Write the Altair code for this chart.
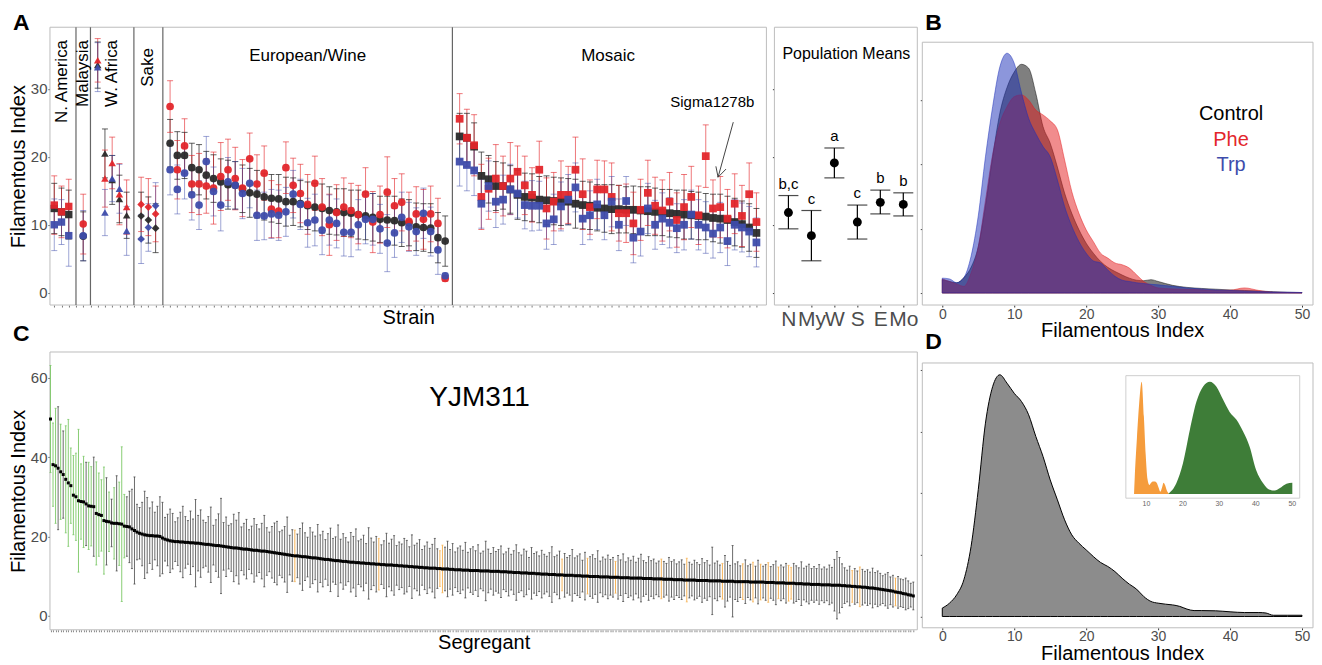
import altair as alt
import pandas as pd

FONT = "Liberation Sans"
RED = "#E3262B"
BLUE = "#3E4CAB"
DARK = "#2A2A2A"
FRAME = "#BDBDBD"
GREY_TXT = "#4D4D4D"

# ================= Panel A : strains =================
group_names = ["N. America", "Malaysia", "W. Africa", "Sake", "European/Wine", "Mosaic"]
group_sizes = [3, 1, 5, 3, 39, 42]
group_shapes = ["square", "circle", "triangle-up", "diamond", "circle", "square"]
group_marker_size = [55, 60, 55, 28, 60, 55]
group_label_y = [37.2, 37.2, 37.2, 36.0, 34.9, 34.9]
treatments = ["Control", "Phe", "Trp"]

ctrl_mean = ([12.4, 11.9, 11.5] + [8.3] + [33.5, 20.5, 16.6, 13.8, 11.4] + [11.3, 10.7, 9.5]
             + [22.0, 20.2, 20.2, 18.4, 18.1, 17.3, 16.8, 16.3, 15.9, 15.8,
                15.3, 14.7, 14.5, 14.1, 13.9, 13.8, 13.4, 13.4, 13.1, 12.8,
                12.6, 12.4, 12.1, 11.9, 11.8, 11.7, 11.5, 11.3, 11.1, 10.8,
                10.7, 10.6, 10.3, 10.3, 9.7, 9.6, 9.5, 8.1, 7.6]
             + [23.0, 22.8, 21.5, 17.2, 16.7, 15.7, 15.7, 15.2, 14.4, 14.1,
                14.0, 13.7, 13.6, 13.5, 13.4, 13.4, 13.1, 12.9, 12.8, 12.5,
                12.4, 12.3, 12.3, 12.2, 12.2, 12.1, 12.0, 11.9, 11.8, 11.7,
                11.6, 11.5, 11.4, 11.3, 11.2, 11.0, 10.9, 10.7, 10.4, 10.1,
                9.6, 8.8])
phe_mean = ([12.9, 11.9, 12.7] + [10.1] + [34.2, 16.8, 19.1, 14.5, 12.6] + [13.0, 12.6, 11.6]
            + [27.4, 18.1, 21.6, 16.0, 16.0, 15.7, 15.4, 17.1, 18.1, 16.8,
               15.4, 19.7, 16.0, 17.6, 12.3, 12.0, 18.4, 15.8, 14.6, 13.0,
               16.1, 12.6, 10.0, 11.8, 12.6, 12.1, 11.5, 14.5, 10.4, 11.5,
               14.8, 12.8, 13.3, 10.5, 11.6, 10.8, 11.6, 10.2, 2.1]
            + [25.6, 22.8, 21.7, 14.1, 15.3, 16.8, 15.7, 16.8, 17.8, 15.8,
               14.4, 18.1, 12.4, 13.4, 14.4, 14.4, 18.1, 14.5, 12.6, 15.2,
               15.2, 14.1, 11.7, 11.7, 10.2, 12.2, 14.7, 12.8, 12.1, 13.4,
               10.7, 12.6, 14.1, 11.4, 20.1, 12.4, 12.6, 10.9, 13.1, 11.3,
               14.5, 10.4])
trp_mean = ([10.0, 10.4, 8.4] + [8.4] + [33.2, 11.8, 16.8, 15.3, 9.1] + [7.9, 9.6, 12.8]
            + [18.1, 15.2, 17.6, 14.4, 12.9, 19.3, 14.9, 12.9, 16.3, 15.8,
               14.6, 16.1, 11.4, 11.3, 11.6, 11.4, 11.9, 14.5, 13.0, 10.3,
               10.7, 9.2, 10.7, 10.2, 8.9, 8.9, 10.0, 10.8, 10.8, 9.4,
               7.3, 8.8, 11.1, 9.7, 9.0, 11.7, 9.0, 6.3, 2.5]
            + [19.3, 18.8, 18.0, 13.1, 15.7, 13.4, 13.7, 15.2, 14.6, 12.9,
               12.8, 12.8, 10.2, 10.8, 12.7, 13.7, 15.5, 10.9, 11.4, 13.0,
               11.4, 13.4, 10.0, 13.5, 8.1, 9.0, 12.4, 10.0, 10.9, 10.3,
               9.5, 10.0, 11.5, 10.0, 9.6, 8.7, 9.6, 7.6, 10.0, 9.6,
               9.0, 7.4])
ctrl_err = ([3.7, 3.5, 3.6] + [3.6] + [3.4, 3.6, 3.6, 3.5, 3.4] + [3.5, 3.4, 3.6]
            + [3.5, 3.5, 3.4, 3.6, 3.7, 3.5, 3.5, 3.4, 3.6, 3.5,
               3.5, 3.6, 3.5, 3.4, 3.5, 3.6, 3.6, 3.5, 3.4, 3.5,
               3.5, 3.6, 3.5, 3.4, 3.5, 3.4, 3.6, 3.5, 3.5, 3.4,
               3.5, 3.6, 3.5, 3.4, 3.5, 3.5, 3.6, 3.7, 3.7]
            + [3.4, 3.6, 3.5, 3.5, 3.5, 3.6, 3.4, 3.5, 3.6, 3.5,
               3.5, 3.4, 3.6, 3.5, 3.5, 3.4, 3.6, 3.5, 3.5, 3.4,
               3.5, 3.6, 3.5, 3.4, 3.5, 3.5, 3.6, 3.5, 3.4, 3.5,
               3.5, 3.6, 3.5, 3.5, 3.4, 3.5, 3.6, 3.5, 3.5, 3.4,
               3.5, 3.6])
phe_err = ([4.3, 3.8, 4.0] + [4.4] + [3.2, 4.2, 3.8, 4.5, 4.0] + [4.0, 4.2, 4.1]
           + [3.8, 4.3, 4.0, 4.2, 4.5, 4.0, 5.3, 5.0, 4.5, 4.6,
              4.2, 3.8, 4.3, 4.0, 4.2, 3.9, 3.8, 4.0, 4.3, 4.4,
              4.0, 4.2, 4.5, 4.1, 4.3, 4.0, 4.3, 3.9, 4.5, 4.2,
              5.2, 4.0, 4.2, 4.3, 4.0, 4.4, 4.1, 3.7, 0.4]
           + [3.7, 4.2, 4.5, 4.8, 4.5, 5.0, 4.4, 5.3, 3.8, 4.3,
              4.0, 4.2, 4.5, 4.3, 5.0, 4.2, 4.8, 5.2, 4.0, 4.3,
              4.2, 5.0, 4.1, 4.3, 4.6, 4.5, 4.8, 4.2, 4.5, 4.3,
              4.0, 4.8, 4.5, 4.3, 4.6, 4.2, 4.5, 4.3, 4.4, 4.5,
              4.6, 4.3])
trp_err = ([3.8, 3.3, 4.5] + [3.7] + [3.6, 3.4, 3.4, 3.6, 3.6] + [3.6, 3.5, 3.4]
           + [3.7, 3.6, 3.8, 3.7, 3.6, 3.7, 3.6, 3.8, 3.6, 3.5,
              3.7, 3.6, 3.7, 3.5, 3.6, 3.7, 3.6, 3.5, 3.7, 3.6,
              3.8, 3.6, 3.7, 3.6, 3.5, 3.6, 3.7, 3.6, 3.8, 3.6,
              4.2, 3.6, 3.7, 3.6, 3.5, 3.7, 3.6, 3.6, 0.4]
           + [3.6, 3.8, 3.7, 3.6, 3.7, 3.8, 3.6, 3.7, 3.6, 3.5,
              3.7, 3.6, 3.8, 3.7, 3.6, 3.7, 3.6, 3.8, 3.6, 3.7,
              3.6, 3.7, 3.8, 3.6, 3.7, 3.6, 3.7, 3.6, 3.8, 3.7,
              3.6, 3.7, 3.6, 3.7, 3.8, 3.6, 3.7, 3.6, 3.7, 3.6,
              3.7, 3.6])

sigma_label = "Sigma1278b"
sigma_pos = {"x": 91.9, "y": 28.05}
arrow_x = [94.8, 92.7, 92.7]
arrow_y = [25.1, 17.0, 17.0]
arrow_x2 = [92.7, 93.8, 92.4]
arrow_y2 = [17.0, 18.2, 18.6]

# ================= Panel A : population means =================
pop_labels = ["N", "My", "W", "S", "E", "Mo"]
pop_mean = [11.8, 8.4, 19.1, 10.4, 13.3, 13.0]
pop_lo = [9.4, 4.7, 16.9, 7.9, 11.6, 11.3]
pop_hi = [14.3, 12.1, 21.3, 12.9, 15.1, 14.7]
pop_letters = ["b,c", "c", "a", "c", "b", "b"]

# ================= Panel B : densities =================
b_x = list(range(0, 31)) + [32, 34, 36, 38, 40, 42, 44, 46, 48, 50]
ctrl_dens = [0.0052, 0.0045, 0.0040, 0.0060, 0.0100, 0.0180, 0.0340, 0.0530, 0.0700, 0.0800,
             0.0860, 0.0890, 0.0875, 0.0777, 0.0648, 0.0583, 0.0490, 0.0389, 0.0310, 0.0246,
             0.0194, 0.0155, 0.0123, 0.0100, 0.0084, 0.0070, 0.0058, 0.0050, 0.0048, 0.0052,
             0.0045,
             0.0030, 0.0022, 0.0018, 0.0015, 0.0012, 0.0010, 0.0008, 0.0005, 0.0003, 0.0002]
phe_dens = [0.0055, 0.0045, 0.0035, 0.0026, 0.0078, 0.0180, 0.0360, 0.0540, 0.0660, 0.0725,
            0.0764, 0.0771, 0.0751, 0.0712, 0.0693, 0.0670, 0.0635, 0.0518, 0.0395, 0.0310,
            0.0246, 0.0200, 0.0155, 0.0136, 0.0117, 0.0110, 0.0097, 0.0071, 0.0045, 0.0030,
            0.0020,
            0.0016, 0.0014, 0.0013, 0.0010, 0.0011, 0.0020, 0.0010, 0.0003, 0.0002, 0.0001]
trp_dens = [0.0058, 0.0055, 0.0040, 0.0060, 0.0143, 0.0300, 0.0530, 0.0725, 0.0880, 0.0933,
            0.0894, 0.0780, 0.0680, 0.0620, 0.0570, 0.0530, 0.0440, 0.0337, 0.0260, 0.0200,
            0.0155, 0.0125, 0.0117, 0.0090, 0.0065, 0.0050, 0.0045, 0.0040, 0.0037, 0.0034,
            0.0032,
            0.0026, 0.0020, 0.0016, 0.0012, 0.0010, 0.0008, 0.0006, 0.0004, 0.0003, 0.0002]

# ================= Panel C : segregants =================
seg_mean = [
    49.6, 38.1, 37.8, 37.2, 36.3, 35.6, 34.4, 33.5, 32.8, 30.4, 30.0, 29.0, 28.8, 28.7, 28.2, 27.7, 27.6, 27.5, 25.8, 25.5,
    25.3, 24.0, 23.8, 23.7, 23.4, 23.3, 23.3, 23.2, 23.1, 22.6, 22.5, 22.4, 21.9, 21.5, 21.1, 20.8, 20.6, 20.4, 20.3, 20.2,
    20.2, 20.1, 20.1, 20.0, 19.6, 19.3, 19.1, 18.9, 18.8, 18.7, 18.7, 18.6, 18.6, 18.5, 18.5, 18.4, 18.4, 18.3, 18.3, 18.2,
    18.1, 18.0, 18.0, 17.9, 17.8, 17.7, 17.7, 17.6, 17.5, 17.4, 17.3, 17.2, 17.1, 17.1, 17.0, 16.9, 16.8, 16.8, 16.7, 16.6,
    16.5, 16.5, 16.4, 16.3, 16.3, 16.2, 16.1, 16.0, 15.9, 15.8, 15.7, 15.6, 15.5, 15.4, 15.3, 15.2, 15.1, 15.1, 15.0, 14.9,
    14.9, 14.8, 14.7, 14.6, 14.6, 14.5, 14.4, 14.3, 14.2, 14.2, 14.1, 14.0, 13.9, 13.9, 13.8, 13.7, 13.7, 13.6, 13.5, 13.5,
    13.4, 13.4, 13.3, 13.3, 13.2, 13.2, 13.1, 13.1, 13.0, 13.0, 12.9, 12.9, 12.8, 12.8, 12.8, 12.7, 12.7, 12.6, 12.6, 12.5,
    12.5, 12.4, 12.4, 12.3, 12.3, 12.2, 12.2, 12.1, 12.1, 12.0, 12.0, 12.0, 11.9, 11.9, 11.8, 11.8, 11.8, 11.7, 11.7, 11.6,
    11.6, 11.6, 11.5, 11.5, 11.5, 11.4, 11.4, 11.4, 11.4, 11.3, 11.3, 11.3, 11.3, 11.2, 11.2, 11.2, 11.2, 11.1, 11.1, 11.1,
    11.0, 11.0, 10.9, 10.9, 10.9, 10.8, 10.8, 10.8, 10.7, 10.7, 10.7, 10.6, 10.6, 10.5, 10.5, 10.5, 10.4, 10.4, 10.4, 10.3,
    10.3, 10.3, 10.2, 10.2, 10.2, 10.2, 10.1, 10.1, 10.1, 10.0, 10.0, 10.0, 9.9, 9.9, 9.9, 9.9, 9.8, 9.8, 9.8, 9.8,
    9.7, 9.7, 9.7, 9.7, 9.6, 9.6, 9.6, 9.6, 9.5, 9.5, 9.5, 9.5, 9.5, 9.4, 9.4, 9.4, 9.4, 9.3, 9.3, 9.3,
    9.3, 9.2, 9.2, 9.2, 9.2, 9.1, 9.1, 9.1, 9.1, 9.0, 9.0, 9.0, 9.0, 9.0, 8.9, 8.9, 8.9, 8.9, 8.9, 8.8,
    8.8, 8.8, 8.8, 8.8, 8.7, 8.7, 8.7, 8.7, 8.7, 8.6, 8.6, 8.6, 8.6, 8.6, 8.6, 8.5, 8.5, 8.5, 8.5, 8.5,
    8.5, 8.4, 8.4, 8.4, 8.4, 8.3, 8.3, 8.3, 8.3, 8.2, 8.2, 8.2, 8.2, 8.1, 8.1, 8.1, 8.0, 8.0, 8.0, 7.9,
    7.9, 7.9, 7.9, 7.8, 7.8, 7.8, 7.8, 7.7, 7.7, 7.7, 7.7, 7.6, 7.6, 7.5, 7.5, 7.4, 7.4, 7.3, 7.3, 7.2,
    7.2, 7.1, 7.0, 7.0, 6.9, 6.8, 6.7, 6.6, 6.5, 6.4, 6.3, 6.2, 6.0, 5.9, 5.8, 5.6, 5.5, 5.3, 5.2, 5.0,
]
seg_err = [
    13.5, 10.5, 14.5, 15.5, 12.0, 11.0, 13.5, 16.0, 9.5, 10.0, 11.0, 18.0, 9.5, 11.5, 10.5, 11.0, 10.0, 12.5, 13.0, 10.5,
    9.0, 13.5, 11.0, 7.5, 6.0, 9.0, 12.0, 10.5, 19.5, 8.0, 7.5, 9.0, 10.0, 13.5, 7.0, 6.5, 8.0, 11.0, 9.5, 7.0,
    8.5, 6.0, 7.5, 10.0, 9.0, 5.5, 6.5, 8.0, 7.0, 5.0, 6.0, 7.5, 9.0, 6.5, 5.5, 8.0, 6.0, 11.0, 7.0, 8.5,
    6.0, 5.5, 7.0, 9.5, 5.0, 6.5, 8.0, 12.0, 6.0, 7.5, 5.5, 6.0, 8.5, 7.0, 9.0, 5.5, 6.5, 7.5, 5.0, 6.0,
    8.0, 6.5, 5.5, 7.0, 9.0, 6.0, 5.0, 6.5, 7.5, 8.0, 5.5, 6.0, 7.0, 9.5, 5.0, 6.5, 6.5, 5.5, 7.0, 8.5,
    6.0, 5.0, 7.5, 6.5, 5.5, 8.5, 6.0, 7.0, 5.0, 6.5, 8.0, 5.5, 6.0, 9.0, 5.5, 7.0, 6.0, 5.0, 7.5, 6.5,
    8.5, 5.5, 6.0, 7.0, 5.0, 9.0, 6.5, 5.5, 7.0, 6.5, 5.0, 6.0, 8.0, 5.5, 6.5, 7.5, 5.0, 6.0, 5.5, 7.0,
    6.5, 5.0, 8.0, 5.5, 6.0, 7.0, 4.5, 5.5, 6.5, 5.0, 6.0, 7.5, 5.0, 4.5, 6.0, 5.5, 7.0, 5.0, 6.5, 4.5,
    5.5, 6.0, 5.0, 7.0, 4.5, 5.5, 6.0, 5.0, 6.5, 4.5, 5.0, 7.5, 5.5, 4.5, 6.0, 5.0, 5.5, 6.5, 4.5, 5.0,
    6.0, 4.5, 5.5, 7.0, 5.0, 4.5, 6.0, 5.5, 4.0, 6.5, 5.0, 5.5, 4.5, 6.0, 5.0, 4.5, 5.5, 7.0, 4.5, 5.0,
    6.0, 4.0, 5.5, 4.5, 5.0, 6.5, 4.5, 5.0, 5.5, 4.0, 6.0, 4.5, 5.0, 5.5, 4.5, 6.5, 4.0, 5.0, 4.5, 5.5,
    4.5, 5.0, 4.0, 5.5, 4.5, 6.0, 4.0, 5.0, 4.5, 5.5, 4.0, 5.0, 6.0, 4.5, 4.0, 5.5, 4.5, 5.0, 4.0, 4.5,
    5.0, 4.5, 4.0, 5.5, 4.5, 5.0, 4.0, 4.5, 5.0, 4.0, 5.5, 4.5, 4.0, 5.0, 4.5, 4.0, 5.5, 4.5, 5.0, 4.0,
    8.5, 4.5, 5.0, 4.0, 4.5, 6.5, 5.0, 4.0, 9.0, 4.5, 5.0, 4.0, 4.5, 5.5, 4.0, 4.5, 5.0, 4.0, 5.5, 4.5,
    4.0, 4.5, 5.0, 4.0, 4.5, 5.5, 4.0, 4.5, 4.0, 5.0, 4.5, 4.0, 5.0, 4.5, 4.0, 5.5, 4.0, 4.5, 5.0, 4.0,
    4.5, 4.0, 5.0, 4.0, 4.5, 4.0, 5.0, 4.5, 6.5, 8.5, 7.0, 5.5, 4.5, 4.0, 5.0, 4.0, 4.5, 4.0, 5.0, 4.5,
    4.0, 4.5, 4.0, 5.0, 4.0, 4.5, 4.0, 3.5, 4.0, 4.5, 3.5, 4.0, 3.5, 4.0, 3.5, 3.5, 4.0, 3.5, 3.0, 3.5,
]
green_idx = [0, 1, 2, 4, 6, 7, 8, 9, 10, 11, 12, 13, 15, 16, 18, 19, 20, 21, 23, 25, 27, 28, 29]
orange_idx = [96, 129, 153, 154, 201, 211, 222, 240, 250, 264, 272, 276, 279, 282, 286, 290, 291,
              315, 318, 332]

# ================= Panel D : density + inset =================
d_x = list(range(0, 36)) + [36, 38, 40, 42, 44, 45, 46, 48, 50]
d_dens = [0.0034, 0.0054, 0.0088, 0.0149, 0.0284, 0.0514, 0.0784, 0.0932, 0.0980, 0.0946,
          0.0905, 0.0872, 0.0818, 0.0730, 0.0649, 0.0554, 0.0473, 0.0392, 0.0331, 0.0297,
          0.0270, 0.0243, 0.0219, 0.0203, 0.0182, 0.0155, 0.0131, 0.0111, 0.0081, 0.0061,
          0.0054, 0.0050, 0.0047, 0.0041, 0.0030, 0.0024,
          0.0024, 0.0023, 0.0019, 0.0016, 0.0016, 0.0014, 0.0005, 0.0005, 0.0005]
orange_x = [6.6, 6.8, 7.4, 8.0, 8.7, 9.3, 9.8, 10.3, 10.8, 11.3, 11.8, 12.3, 12.8, 13.3, 13.8,
            14.3, 14.7, 15.1, 15.6, 16.2]
orange_y = [0.0, 0.15, 0.50, 0.80, 1.0, 0.69, 0.35, 0.13, 0.08, 0.10, 0.11, 0.11, 0.10, 0.06, 0.02,
            0.06, 0.10, 0.08, 0.03, 0.0]
green_x = [16.0, 18.2, 20.0, 21.9, 23.7, 25.5, 27.4, 29.2, 31.0, 32.8, 34.7, 36.5, 38.3, 40.1, 42.0,
           43.8, 45.2, 46.5, 48.4, 50.0]
green_y = [0.0, 0.095, 0.27, 0.57, 0.82, 0.955, 1.0, 0.955, 0.84, 0.73, 0.66, 0.555, 0.42, 0.21, 0.095,
           0.036, 0.03, 0.05, 0.09, 0.10]
inset_ticks = [10, 20, 30, 40, 50]

assert len(ctrl_mean) == len(phe_mean) == len(trp_mean) == sum(group_sizes) == 93
assert len(ctrl_err) == len(phe_err) == len(trp_err) == 93
assert len(seg_mean) == len(seg_err) == 340
assert len(b_x) == len(ctrl_dens) == len(phe_dens) == len(trp_dens)
assert len(d_x) == len(d_dens)

# ---------- canvas layout (pixels inside the single view) ----------
W, H = 1306, 649
panel_boxes = {            # x0, x1, y0, y1 of each panel frame
    "A1": (41, 758, 19, 297),
    "A2": (766, 909, 19, 297),
    "B": (914, 1305, 34, 297),
    "C": (41, 909, 344, 622),
    "D": (914, 1305, 355, 620),
}

def off_bottom(y):
    return -(H - y)

sA_x = alt.Scale(domain=[0.406, 99.38], range=[41, 758], nice=False, zero=False)
sA_y = alt.Scale(domain=[-1.81, 39.07], range=[297, 19], nice=False, zero=False)
sP_x = alt.Scale(type="point", domain=pop_labels, range=[766, 909], padding=0.61)
sB_x = alt.Scale(domain=[0, 50], range=[934, 1294], nice=False, zero=False)
sB_y = alt.Scale(domain=[0, 0.1], range=[285, 27.8], nice=False, zero=False)
sC_x = alt.Scale(domain=[-0.2, 340.57], range=[41, 909], nice=False, zero=False)
sC_y = alt.Scale(domain=[-3.53, 66.5], range=[622, 344], nice=False, zero=False)
sD_y = alt.Scale(domain=[0, 0.1], range=[608.7, 361.9], nice=False, zero=False)
sI_x = alt.Scale(domain=[10, 50], range=[1138.3, 1284.3], nice=False, zero=False)
sI_y = alt.Scale(domain=[0, 1], range=[486, 373.7], nice=False, zero=False)

one = pd.DataFrame([{"a": 1}])
layers = []

# ---------- frames ----------
frame_df = pd.DataFrame([{"p": k, "x0": v[0], "x1": v[1], "y0": v[2], "y1": v[3]}
                         for k, v in panel_boxes.items()])
layers.append(alt.Chart(frame_df).mark_rect(fill="white", stroke=FRAME, strokeWidth=1).encode(
    x=alt.X("x0:Q", scale=None, axis=None), x2="x1:Q",
    y=alt.Y("y0:Q", scale=None, axis=None), y2="y1:Q"))

# ---------- panel A strains ----------
rows, divs, lab_rows = [], [], []
x = 1
k = 0
for gi, (g, n) in enumerate(zip(group_names, group_sizes)):
    xs = list(range(x, x + n))
    for xi in xs:
        for ti, (t, mm, ee) in enumerate((("Control", ctrl_mean, ctrl_err),
                                           ("Phe", phe_mean, phe_err),
                                           ("Trp", trp_mean, trp_err))):
            rows.append({"x": xi, "group": g, "treatment": t, "t_order": ti,
                         "mean": mm[k], "lo": mm[k] - ee[k], "hi": mm[k] + ee[k]})
        k += 1
    lab_rows.append({"group": g, "x": (xs[0] + xs[-1]) / 2.0, "y": group_label_y[gi],
                     "rotated": gi < 4})
    x += n
    if gi < len(group_names) - 1:
        divs.append({"x": x})
        x += 1
strain_df = pd.DataFrame(rows).sort_values("t_order", kind="stable")
div_df = pd.DataFrame(divs)
lab_df = pd.DataFrame(lab_rows)

col_scale = alt.Scale(domain=treatments, range=[DARK, RED, BLUE])
bar_op_scale = alt.Scale(domain=treatments, range=[0.75, 0.5, 0.5])
xA_axis = alt.Axis(orient="bottom", offset=off_bottom(297), values=list(range(1, 99)),
                   labels=False, title="Strain", titlePadding=0, tickColor="#777777")
yA_axis = alt.Axis(orient="left", offset=-41, values=[0, 10, 20, 30],
                   title="Filamentous Index", titlePadding=2)
xA_n = alt.X("x:Q", scale=sA_x, axis=None)

def yA(field):
    return alt.Y(field, scale=sA_y, axis=None)

colA = alt.Color("treatment:N", scale=col_scale, legend=None)
opA = alt.Opacity("treatment:N", scale=bar_op_scale, legend=None)
base_A = alt.Chart(strain_df)
layers.append(alt.Chart(div_df).mark_rule(color="#666666", strokeWidth=1.2).encode(
    x=xA_n, y=alt.value(19), y2=alt.value(297)))
layers.append(base_A.mark_rule(strokeWidth=1).encode(
    x=alt.X("x:Q", scale=sA_x, axis=xA_axis),
    y=alt.Y("lo:Q", scale=sA_y, axis=yA_axis), y2="hi:Q", color=colA, opacity=opA))
layers.append(base_A.mark_tick(orient="horizontal", size=6, thickness=1).encode(
    x=xA_n, y=yA("lo:Q"), color=colA, opacity=opA))
layers.append(base_A.mark_tick(orient="horizontal", size=6, thickness=1).encode(
    x=xA_n, y=yA("hi:Q"), color=colA, opacity=opA))
layers.append(base_A.mark_point(filled=True, opacity=0.95, strokeWidth=0).encode(
    x=xA_n, y=yA("mean:Q"), color=colA,
    shape=alt.Shape("group:N", scale=alt.Scale(domain=group_names, range=group_shapes), legend=None),
    size=alt.Size("group:N", scale=alt.Scale(domain=group_names, range=group_marker_size), legend=None)))
layers.append(alt.Chart(lab_df[lab_df["rotated"]]).mark_text(
    angle=270, align="right", baseline="middle", fontSize=17, color="black").encode(
    x=xA_n, y=yA("y:Q"), text="group:N"))
layers.append(alt.Chart(lab_df[~lab_df["rotated"]]).mark_text(
    align="center", baseline="middle", fontSize=17, color="black").encode(
    x=xA_n, y=yA("y:Q"), text="group:N"))
sig_df = pd.DataFrame([{"x": sigma_pos["x"], "y": sigma_pos["y"], "t": sigma_label}])
layers.append(alt.Chart(sig_df).mark_text(fontSize=15, baseline="middle", color="black").encode(
    x=xA_n, y=yA("y:Q"), text="t:N"))
arr_df = pd.DataFrame({"x": arrow_x, "y": arrow_y, "x2": arrow_x2, "y2": arrow_y2})
layers.append(alt.Chart(arr_df).mark_rule(color="#444444", strokeWidth=1).encode(
    x=xA_n, y=yA("y:Q"), x2="x2:Q", y2="y2:Q"))

# ---------- panel A population means ----------
pop_df = pd.DataFrame({"pop": pop_labels, "mean": pop_mean, "lo": pop_lo, "hi": pop_hi,
                       "letter": pop_letters})
xP_n = alt.X("pop:N", scale=sP_x, sort=pop_labels, axis=None)
base_P = alt.Chart(pop_df)
layers.append(base_P.mark_rule(color="black", strokeWidth=1.2).encode(
    x=alt.X("pop:N", scale=sP_x, sort=pop_labels,
            axis=alt.Axis(orient="bottom", offset=off_bottom(297), title=None, labelFontSize=21,
                          labelAngle=0, labelOverlap=False, labelPadding=1)),
    y=alt.Y("lo:Q", scale=sA_y,
            axis=alt.Axis(orient="left", offset=-766, values=[0, 10, 20, 30], labels=False,
                          title=None)),
    y2="hi:Q"))
layers.append(base_P.mark_tick(orient="horizontal", size=20, thickness=1.2, color="black").encode(
    x=xP_n, y=yA("lo:Q")))
layers.append(base_P.mark_tick(orient="horizontal", size=20, thickness=1.2, color="black").encode(
    x=xP_n, y=yA("hi:Q")))
layers.append(base_P.mark_circle(size=80, color="black", opacity=1).encode(
    x=xP_n, y=yA("mean:Q")))
layers.append(base_P.mark_text(fontSize=15, baseline="bottom", dy=-4, color="black").encode(
    x=xP_n, y=yA("hi:Q"), text="letter:N"))
layers.append(alt.Chart(one).mark_text(text="Population Means", fontSize=16,
                                       baseline="middle", color="black").encode(
    x=alt.value(838), y=alt.value(46)))

# ---------- panel B ----------
b_fill = {"Control": ("#000000", 0.5), "Phe": ("#E31A1C", 0.5), "Trp": ("#1A2DB8", 0.5)}
dens_map = {"Control": ctrl_dens, "Phe": phe_dens, "Trp": trp_dens}
for i, t in enumerate(treatments):
    c, op = b_fill[t]
    ddf = pd.DataFrame({"x": b_x, "d": dens_map[t]})
    layers.append(alt.Chart(ddf).mark_area(
        interpolate="monotone", color=c, fillOpacity=op, stroke=c, strokeOpacity=0.6,
        strokeWidth=0.8).encode(
        x=alt.X("x:Q", scale=sB_x,
                axis=alt.Axis(orient="bottom", offset=off_bottom(297),
                              values=[0, 10, 20, 30, 40, 50], title="Filamentous Index",
                              titlePadding=0, labelPadding=0, labelFontSize=14) if i == 0 else None),
        y=alt.Y("d:Q", scale=sB_y, stack=None,
                axis=alt.Axis(orient="left", offset=-914, values=[0, 0.025, 0.05, 0.075],
                              labels=False, title=None) if i == 0 else None)))
leg_df = pd.DataFrame({"t": treatments, "c": ["black", RED, BLUE], "yy": [106, 132, 157]})
for _, r in leg_df.iterrows():
    layers.append(alt.Chart(one).mark_text(
        text=r["t"], fontSize=20, color=r["c"], align="center", baseline="middle").encode(
        x=alt.value(1223), y=alt.value(int(r["yy"]))))

# ---------- panel C ----------
seg_class = ["k"] * len(seg_mean)
for i in green_idx:
    seg_class[i] = "g"
for i in orange_idx:
    seg_class[i] = "o"
seg_df = pd.DataFrame({"i": list(range(len(seg_mean))), "mean": seg_mean,
                       "lo": [m - e for m, e in zip(seg_mean, seg_err)],
                       "hi": [m + e for m, e in zip(seg_mean, seg_err)],
                       "cls": seg_class})
cls_scale = alt.Scale(domain=["k", "g", "o"], range=["#3A3A3A", "#72C45C", "#F7B04F"])
cls_op = alt.Scale(domain=["k", "g", "o"], range=[0.75, 0.95, 0.95])
xC_n = alt.X("i:Q", scale=sC_x, axis=None)

def yC(field):
    return alt.Y(field, scale=sC_y, axis=None)

base_C = alt.Chart(seg_df)
layers.append(base_C.mark_rule(strokeWidth=1).encode(
    x=alt.X("i:Q", scale=sC_x,
            axis=alt.Axis(orient="bottom", offset=off_bottom(622),
                          values=list(range(len(seg_mean))), labels=False, title="Segregant",
                          titlePadding=0, tickColor="#888888")),
    y=alt.Y("lo:Q", scale=sC_y,
            axis=alt.Axis(orient="left", offset=-41, values=[0, 20, 40, 60],
                          title="Filamentous Index", titlePadding=2)),
    y2="hi:Q", color=alt.Color("cls:N", scale=cls_scale, legend=None),
    opacity=alt.Opacity("cls:N", scale=cls_op, legend=None)))
layers.append(base_C.mark_tick(orient="horizontal", size=2, thickness=1).encode(
    x=xC_n, y=yC("lo:Q"), color=alt.Color("cls:N", scale=cls_scale, legend=None)))
layers.append(base_C.mark_tick(orient="horizontal", size=2, thickness=1).encode(
    x=xC_n, y=yC("hi:Q"), color=alt.Color("cls:N", scale=cls_scale, legend=None)))
layers.append(base_C.mark_square(size=9, color="black", opacity=1).encode(
    x=xC_n, y=yC("mean:Q")))
layers.append(alt.Chart(one).mark_text(text="YJM311", fontSize=28, color="black",
                                       baseline="middle").encode(
    x=alt.value(471), y=alt.value(390)))

# ---------- panel D ----------
d_df = pd.DataFrame({"x": d_x, "d": d_dens})
layers.append(alt.Chart(d_df).mark_area(interpolate="monotone", color="#8C8C8C", stroke="black",
                                        strokeWidth=1, fillOpacity=1).encode(
    x=alt.X("x:Q", scale=sB_x,
            axis=alt.Axis(orient="bottom", offset=off_bottom(620),
                          values=[0, 10, 20, 30, 40, 50], title="Filamentous Index",
                          titlePadding=0, labelPadding=0, labelFontSize=14)),
    y=alt.Y("d:Q", scale=sD_y,
            axis=alt.Axis(orient="left", offset=-914, values=[0, 0.025, 0.05, 0.075, 0.1],
                          labels=False, title=None))))
layers.append(alt.Chart(one).mark_rect(fill="white", stroke="#CFCFCF", strokeWidth=1).encode(
    x=alt.value(1117.7), x2=alt.value(1291.7), y=alt.value(367.7), y2=alt.value(490.3)))
layers.append(alt.Chart(pd.DataFrame({"x": orange_x, "v": orange_y})).mark_area(
    interpolate="monotone", color="#F59C3C", fillOpacity=1).encode(
    x=alt.X("x:Q", scale=sI_x, axis=None), y=alt.Y("v:Q", scale=sI_y, axis=None)))
layers.append(alt.Chart(pd.DataFrame({"x": green_x, "v": green_y})).mark_area(
    interpolate="monotone", color="#3E7D38", fillOpacity=1).encode(
    x=alt.X("x:Q", scale=sI_x, axis=None), y=alt.Y("v:Q", scale=sI_y, axis=None)))
layers.append(alt.Chart(pd.DataFrame({"x": inset_ticks})).mark_text(
    fontSize=7, color="#666666", baseline="middle").encode(
    x=alt.X("x:Q", scale=sI_x, axis=None), y=alt.value(496), text="x:Q"))

# ---------- panel letters ----------
for letter, lx, ly in (("A", 4, 22), ("B", 917, 22), ("C", 4, 333), ("D", 917, 341)):
    layers.append(alt.Chart(one).mark_text(text=letter, fontSize=23, fontWeight="bold",
                                           align="left", baseline="alphabetic",
                                           color="black").encode(
        x=alt.value(lx), y=alt.value(ly)))

chart = alt.layer(*layers).resolve_scale(
    x="independent", y="independent", color="independent", opacity="independent",
    shape="independent", size="independent"
).properties(
    width=W, height=H, padding={"left": 0, "top": 0, "right": 0, "bottom": 0}
).configure(font=FONT).configure_view(stroke="transparent").configure_axis(
    grid=False, domain=False, labelFont=FONT, titleFont=FONT, labelColor=GREY_TXT,
    titleColor="black", labelFontSize=15, titleFontSize=20, titleFontWeight="normal",
    tickColor="#333333", tickSize=2, labelPadding=1, labelFlush=False
).configure_text(font=FONT)

chart.save("out.html", embed_options={"renderer": "svg", "actions": False})
